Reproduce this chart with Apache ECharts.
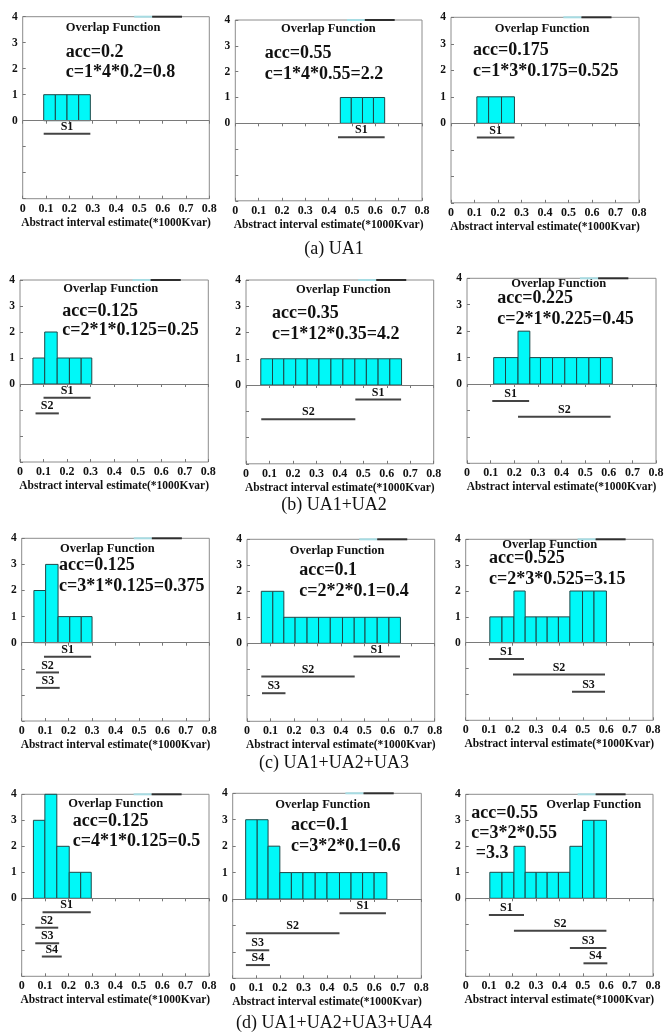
<!DOCTYPE html>
<html>
<head>
<meta charset="utf-8">
<script src="https://cdn.jsdelivr.net/npm/echarts@6/dist/echarts.min.js"></script>
<style>
html,body{margin:0;padding:0;background:#fff}
#main{width:668px;height:1034px}
</style>
</head>
<body>
<div id="main"></div>
<script>
// tick labels
var xTickLabels = ['0','0.1','0.2','0.3','0.4','0.5','0.6','0.7','0.8'];
var yTickLabels = ['0','1','2','3','4'];
var xTitle = 'Abstract interval estimate(*1000Kvar)';
var captions = ['(a) UA1','(b) UA1+UA2','(c) UA1+UA2+UA3','(d) UA1+UA2+UA3+UA4'];
var accLabels = ['acc=0.2','acc=0.55','acc=0.175','acc=0.125','acc=0.35','acc=0.225',
                 'acc=0.125','acc=0.1','acc=0.525','acc=0.125','acc=0.1','acc=0.55'];
var costLabels = ['c=1*4*0.2=0.8','c=1*4*0.55=2.2','c=1*3*0.175=0.525',
                  'c=2*1*0.125=0.25','c=1*12*0.35=4.2','c=2*1*0.225=0.45',
                  'c=3*1*0.125=0.375','c=2*2*0.1=0.4','c=2*3*0.525=3.15',
                  'c=4*1*0.125=0.5','c=3*2*0.1=0.6','c=3*2*0.55\n =3.3'];

// bar edges (x) and overlap counts, segments [start, end, level] = S1, S2, ...
var edges1 = [0.09,0.14,0.19,0.24,0.29];
var counts1 = [1,1,1,1];
var segs1 = [[0.09,0.29,-0.5]];
var edges2 = [0.45,0.497,0.545,0.592,0.64];
var counts2 = [1,1,1,1];
var segs2 = [[0.44,0.64,-0.54]];
var edges3 = [0.11,0.16,0.215,0.27];
var counts3 = [1,1,1];
var segs3 = [[0.11,0.27,-0.54]];
var edges4 = [0.055,0.105,0.158,0.21,0.26,0.305];
var counts4 = [1,2,1,1,1];
var segs4 = [[0.1,0.3,-0.53],[0.066,0.165,-1.13]];
var edges5 = [0.063,0.113,0.161,0.212,0.261,0.311,0.362,0.413,0.464,0.513,0.563,0.613,0.663];
var counts5 = [1,1,1,1,1,1,1,1,1,1,1,1];
var segs5 = [[0.466,0.661,-0.55],[0.065,0.466,-1.3]];
var edges6 = [0.113,0.163,0.216,0.266,0.311,0.362,0.414,0.464,0.516,0.565,0.615];
var counts6 = [1,1,2,1,1,1,1,1,1,1];
var segs6 = [[0.107,0.263,-0.64],[0.216,0.608,-1.24]];
var edges7 = [0.052,0.102,0.155,0.205,0.254,0.3];
var counts7 = [2,3,1,1,1];
var segs7 = [[0.095,0.296,-0.54],[0.061,0.159,-1.14],[0.061,0.162,-1.73]];
var edges8 = [0.061,0.11,0.157,0.205,0.256,0.305,0.355,0.407,0.457,0.503,0.555,0.605,0.654];
var counts8 = [2,2,1,1,1,1,1,1,1,1,1,1];
var segs8 = [[0.454,0.652,-0.51],[0.061,0.459,-1.28],[0.064,0.164,-1.92]];
var edges9 = [0.103,0.155,0.206,0.254,0.301,0.348,0.396,0.445,0.499,0.548,0.601];
var counts9 = [1,1,2,1,1,1,1,2,2,2];
var segs9 = [[0.099,0.249,-0.63],[0.202,0.595,-1.23],[0.454,0.595,-1.9]];
var edges10 = [0.05,0.099,0.15,0.203,0.252,0.297];
var counts10 = [3,4,2,1,1];
var segs10 = [[0.089,0.295,-0.54],[0.058,0.156,-1.13],[0.058,0.16,-1.73],[0.086,0.171,-2.24]];
var edges11 = [0.055,0.104,0.15,0.2,0.249,0.298,0.35,0.4,0.453,0.502,0.551,0.6,0.654];
var counts11 = [3,3,2,1,1,1,1,1,1,1,1,1];
var segs11 = [[0.453,0.65,-0.54],[0.056,0.453,-1.3],[0.056,0.155,-1.94],[0.056,0.158,-2.5]];
var edges12 = [0.103,0.155,0.206,0.254,0.301,0.348,0.396,0.445,0.499,0.548,0.601];
var counts12 = [1,1,2,1,1,1,1,2,3,3];
var segs12 = [[0.099,0.249,-0.64],[0.206,0.601,-1.25],[0.445,0.601,-1.91],[0.503,0.605,-2.5]];

// leftover legend stub on the top border
var stubX = [0.478,0.555,0.683];

var panels = [
    {edges:edges1,counts:counts1,segs:segs1},{edges:edges2,counts:counts2,segs:segs2},{edges:edges3,counts:counts3,segs:segs3},
    {edges:edges4,counts:counts4,segs:segs4},{edges:edges5,counts:counts5,segs:segs5},{edges:edges6,counts:counts6,segs:segs6},
    {edges:edges7,counts:counts7,segs:segs7},{edges:edges8,counts:counts8,segs:segs8},{edges:edges9,counts:counts9,segs:segs9},
    {edges:edges10,counts:counts10,segs:segs10},{edges:edges11,counts:counts11,segs:segs11},{edges:edges12,counts:counts12,segs:segs12}
];

// layout: plot boxes [left, top, right, bottom] in px
var boxes = [
    [22.7,16.7,209.3,198.7],[235.3,20,422,200.8],[451,17.3,639,202.8],
    [20,280,208.3,462],[246,280,433.7,463.8],[467,278.3,656,463.3],
    [21.7,538.3,209.3,721],[247,539.3,434.7,721.3],[465.7,539.3,653,720.3],
    [21.7,794.3,209,976.3],[232.7,793.3,421.3,978.3],[465.7,794.3,653,976.3]
];
// text anchors: 'Overlap Function' x,y ; acc x,y ; c x,y  (left / middle)
var notePos = [
    [65.7,28.3,65.7,53.3,65.7,72.7],[281,29.3,264.7,54.3,264.7,74],[494.7,29.3,473,51,473,71],
    [63.3,289.3,62.3,312.3,62.3,330.7],[296,290.7,272,314,272,334.3],[511.3,284,497.3,299,497.3,319],
    [60,549,59,566.7,59,586.7],[289.7,551,299.3,571.7,299.3,591.7],[502.3,545.7,489,559,489,579],
    [68.3,804,72.7,822.3,72.7,841.7],[275.3,805,291,826.7,291,846],[546.3,805.7,471.3,814,471.3,833.3]
];
var captionY = [250,506,764,1024];

var SERIF = '"Liberation Serif","Times New Roman",serif';
var chart = echarts.init(document.getElementById('main'));

function barItem(params, api) {
    var p0 = api.coord([api.value(0), api.value(2)]);
    var p1 = api.coord([api.value(1), 0]);
    return {
        type: 'rect',
        shape: {x: p0[0], y: p0[1], width: p1[0] - p0[0], height: p1[1] - p0[1]},
        style: {fill: '#00f8f8', stroke: '#1e4848', lineWidth: 1}
    };
}
function segItem(params, api) {
    var a = api.coord([api.value(0), api.value(2)]);
    var b = api.coord([api.value(1), api.value(2)]);
    return {
        type: 'group',
        children: [
            {type: 'line', shape: {x1: a[0], y1: a[1], x2: b[0], y2: b[1]},
             style: {stroke: '#444', lineWidth: 2}},
            {type: 'text', style: {text: 'S' + (params.dataIndex + 1), x: (a[0] + b[0]) / 2, y: a[1] - 1,
             align: 'center', verticalAlign: 'bottom', fill: '#111',
             font: 'bold 12px ' + SERIF}}
        ]
    };
}
function stubItem(params, api) {
    var a = api.coord([api.value(0), 4]);
    var b = api.coord([api.value(1), 4]);
    return {type: 'line', shape: {x1: a[0], y1: a[1], x2: b[0], y2: b[1]},
        style: {stroke: params.dataIndex == 0 ? '#a6dbe2' : '#2e2e2e', lineWidth: 2}};
}

var grid = [], xAxis = [], yAxis = [], series = [], graphic = [];
panels.forEach(function (p, i) {
    var b = boxes[i];
    grid.push({left: b[0], top: b[1], width: b[2] - b[0], height: b[3] - b[1],
        show: true, borderColor: '#8c8c8c', borderWidth: 1});
    xAxis.push({
        gridIndex: i, type: 'value', min: 0, max: 0.8, interval: 0.1,
        axisLine: {show: false, onZero: false},
        axisTick: {inside: true, length: 3, lineStyle: {color: '#777'}},
        axisLabel: {margin: 4, color: '#111', fontFamily: SERIF, fontWeight: 'bold', fontSize: 12,
            formatter: function (v) { return xTickLabels[Math.round(v * 10)]; }},
        splitLine: {show: false},
        name: xTitle, nameLocation: 'middle', nameGap: 18,
        nameTextStyle: {color: '#111', fontFamily: SERIF, fontWeight: 'bold', fontSize: 11.5, verticalAlign: 'top'}
    });
    xAxis.push({
        gridIndex: i, type: 'value', min: 0, max: 0.8, interval: 0.1, position: 'top',
        axisLine: {show: false}, axisTick: {inside: true, length: 3, lineStyle: {color: '#777'}},
        axisLabel: {show: false}, splitLine: {show: false}
    });
    yAxis.push({
        gridIndex: i, type: 'value', min: -3, max: 4, interval: 1,
        axisLine: {show: false},
        axisTick: {inside: true, length: 3, lineStyle: {color: '#777'}},
        axisLabel: {margin: 5, color: '#111', fontFamily: SERIF, fontWeight: 'bold', fontSize: 11.5,
            formatter: function (v) { return v < 0 ? '' : yTickLabels[v]; }},
        splitLine: {show: false}
    });
    series.push({
        type: 'custom', xAxisIndex: i * 2, yAxisIndex: i, renderItem: barItem, silent: true,
        encode: {x: [0, 1], y: 2},
        data: p.counts.map(function (c, k) { return [p.edges[k], p.edges[k + 1], c]; })
    });
    series.push({
        type: 'custom', xAxisIndex: i * 2, yAxisIndex: i, renderItem: segItem, silent: true,
        encode: {x: [0, 1], y: 2}, data: p.segs,
        markLine: {silent: true, symbol: 'none', label: {show: false},
            lineStyle: {color: '#7a7a7a', width: 1, type: 'solid'}, data: [{yAxis: 0}]}
    });
    series.push({
        type: 'custom', xAxisIndex: i * 2, yAxisIndex: i, renderItem: stubItem, silent: true, clip: false,
        encode: {x: [0, 1]},
        data: [[stubX[0], stubX[1]], [stubX[1], stubX[2]]]
    });
    var n = notePos[i];
    graphic.push({type: 'text', left: n[0], top: n[1] - 7, silent: true,
        style: {text: 'Overlap Function', fill: '#111', font: 'bold 12.5px ' + SERIF}});
    graphic.push({type: 'text', left: n[2], top: n[3] - 10, silent: true,
        style: {text: accLabels[i], fill: '#111', font: 'bold 18px ' + SERIF}});
    graphic.push({type: 'text', left: n[4], top: n[5] - 10, silent: true,
        style: {text: costLabels[i], fill: '#111', font: 'bold 18px ' + SERIF, lineHeight: 20}});
});
captions.forEach(function (c, k) {
    graphic.push({type: 'text', left: 'center', top: captionY[k] - 10, silent: true,
        style: {text: c, fill: '#111', font: '18px ' + SERIF}});
});

chart.setOption({
    backgroundColor: '#fff',
    animation: false,
    grid: grid,
    xAxis: xAxis,
    yAxis: yAxis,
    series: series,
    graphic: graphic
});
</script>
</body>
</html>
